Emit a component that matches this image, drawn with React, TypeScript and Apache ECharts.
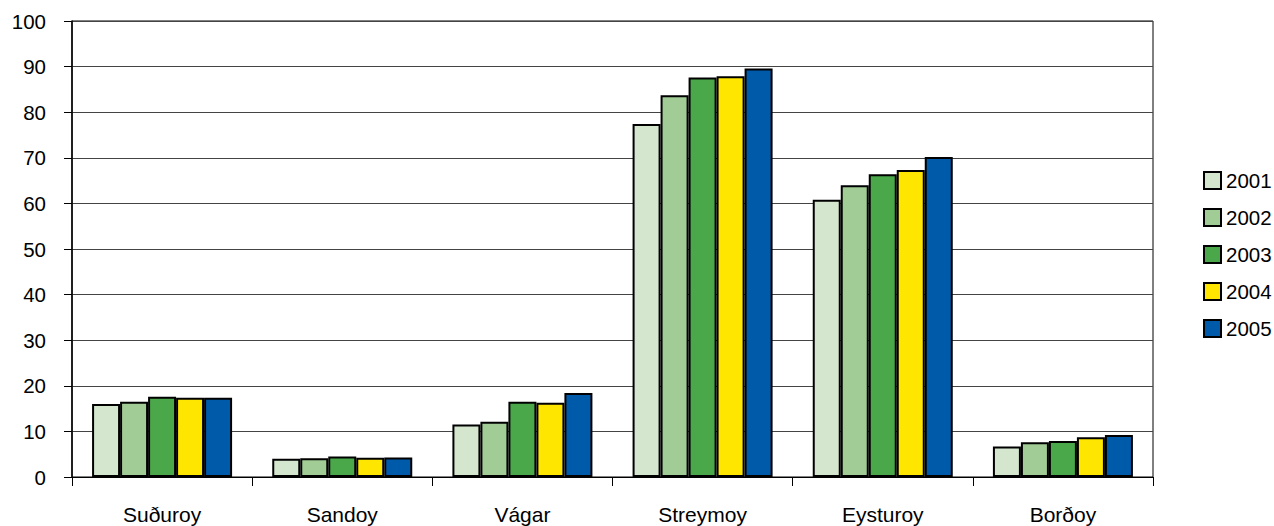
import React, { useEffect, useRef } from "react";
import * as echarts from "echarts";

const categories = ["Suðuroy", "Sandoy", "Vágar", "Streymoy", "Eysturoy", "Borðoy"];
const years = ["2001", "2002", "2003", "2004", "2005"];
const colors = ["#D4E6CE", "#A2CC96", "#4AA84A", "#FFE600", "#005AAA"];
const v2001 = [16.0, 4.0, 11.5, 77.4, 60.8, 6.7];
const v2002 = [16.5, 4.1, 12.1, 83.7, 64.0, 7.6];
const v2003 = [17.6, 4.5, 16.5, 87.6, 66.4, 7.9];
const v2004 = [17.4, 4.2, 16.3, 87.9, 67.3, 8.7];
const v2005 = [17.4, 4.3, 18.4, 89.6, 70.2, 9.2];
const seriesValues = [v2001, v2002, v2003, v2004, v2005];
const yTicks = [0, 10, 20, 30, 40, 50, 60, 70, 80, 90, 100];

const FONT = "'Liberation Sans', Arial, Helvetica, sans-serif";

export default function App() {
  const ref = useRef<HTMLDivElement>(null);
  useEffect(() => {
    if (!ref.current) return;
    const chart = echarts.init(ref.current, undefined, { renderer: "svg" });
    chart.setOption({
      animation: false,
      backgroundColor: "#fff",
      textStyle: { fontFamily: FONT },
      grid: {
        left: 72,
        right: 121,
        top: 21,
        bottom: 49,
        show: true,
        borderColor: "#000",
        borderWidth: 1,
        containLabel: false,
      },
      legend: {
        orient: "vertical",
        left: 1198,
        top: 165,
        itemWidth: 17,
        itemHeight: 17,
        itemGap: 16,
        icon: "rect",
        textStyle: { fontSize: 20.5, lineHeight: 20, color: "#000", fontFamily: FONT },
        data: years,
      },
      xAxis: {
        type: "category",
        data: categories,
        boundaryGap: true,
        axisLine: { show: true, lineStyle: { color: "#000", width: 1 } },
        axisTick: { show: true, length: 9, lineStyle: { color: "#000" } },
        axisLabel: { fontSize: 21, color: "#000", margin: 27, fontFamily: FONT },
        splitLine: { show: false },
      },
      yAxis: {
        type: "value",
        min: yTicks[0],
        max: yTicks[yTicks.length - 1],
        interval: yTicks[1] - yTicks[0],
        axisLine: { show: true, lineStyle: { color: "#000", width: 1.5 } },
        axisTick: { show: true, length: 8, lineStyle: { color: "#000" } },
        axisLabel: { fontSize: 20.5, color: "#000", margin: 26, fontFamily: FONT },
        splitLine: { show: true, lineStyle: { color: "#444", width: 1 } },
      },
      series: years.map((y, i) => ({
        name: y,
        type: "bar",
        data: seriesValues[i],
        barWidth: 28,
        barGap: "0%",
        itemStyle: { color: colors[i], borderColor: "#000", borderWidth: 2 },
      })),
    });
    return () => chart.dispose();
  }, []);
  return (
    <div
      ref={ref}
      style={{ position: "absolute", left: 0, top: 0, width: 1274, height: 526 }}
    />
  );
}
